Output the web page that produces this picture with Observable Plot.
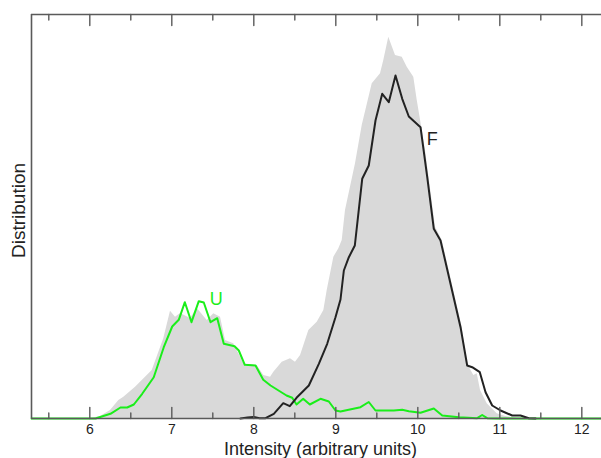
<!DOCTYPE html>
<html><head><meta charset="utf-8">
<script src="https://cdn.jsdelivr.net/npm/d3@7"></script>
<script src="https://cdn.jsdelivr.net/npm/@observablehq/plot@0.6"></script>
<style>html,body{margin:0;padding:0;background:#fff;overflow:hidden}</style>
</head><body><div id="chart"></div>
<script>
// Total distribution (gray area)
const totalX = [5.289,6.009,6.130,6.252,6.354,6.415,6.557,6.761,6.902,6.984,7.045,7.106,7.228,7.310,7.432,7.512,7.594,7.655,7.756,7.878,8.041,8.122,8.204,8.244,8.346,8.447,8.508,8.570,8.671,8.773,8.854,8.895,8.976,9.037,9.078,9.118,9.240,9.322,9.444,9.545,9.585,9.646,9.728,9.810,9.871,9.951,9.993,10.054,10.094,10.216,10.298,10.541,10.602,10.683,10.724,10.765,10.846,10.968,11.070,11.212,12.24];
const totalY = [0,0,2,8,18,21.3,31.3,48,79.7,107.3,101.3,105,100,110,98,104.7,101.3,78,74.7,54.7,53,43,41.3,46.3,56.3,59.7,56.3,63,88,96.3,108,128,161.3,169.7,178,208,254.7,293,334.7,344.7,358,381.3,363,361.3,351.3,341.3,318,288,268,191.3,178,91.3,54.7,43,44.7,28,14.7,4.7,2,0,0];
// Unfolded (U, green)
const uX = [5.289,5.521,6.070,6.252,6.374,6.456,6.537,6.639,6.780,6.902,7.005,7.085,7.159,7.240,7.329,7.390,7.472,7.554,7.634,7.765,7.817,7.890,8.021,8.115,8.204,8.399,8.468,8.521,8.602,8.683,8.813,8.915,8.996,9.057,9.301,9.402,9.484,9.707,9.810,9.890,10.033,10.195,10.298,10.500,10.724,10.785,10.846,10.968,12.240];
const uY = [0,0,0,4.7,11,11,14,24.7,41.3,71.3,92,98.7,116.3,96.3,117.3,116,96.3,100.3,74.7,72.3,68,53.7,53,38.7,33,23,20.7,14,19.7,14,19.7,17,8,7,11.3,16.5,8,8,8.7,7.3,5.7,10,3,1.3,0.3,3.5,0.3,0,0];
// Folded (F, black)
const fX = [7.838,7.923,8.000,8.070,8.143,8.244,8.359,8.439,8.521,8.671,8.793,8.895,8.996,9.057,9.098,9.159,9.232,9.322,9.402,9.484,9.566,9.646,9.728,9.810,9.890,10.033,10.115,10.195,10.277,10.521,10.602,10.663,10.756,10.826,10.907,11.009,11.151,11.252,11.354,11.436];
const fY = [0,1,1.5,0.3,0.3,4.7,15.3,12.3,20.7,33,54.7,74.7,101.3,119,148,161.3,173,239.7,253,298,324.7,316.3,343,319.7,302,291.3,241.3,189.7,178,91.3,53,51.3,46.3,26.3,13,8,3,3,0.3,0];

const majorTicks = [6,7,8,9,10,11,12];
const minorTicks = [5.5,6.5,7.5,8.5,9.5,10.5,11.5];
const xDomain = [5.289, 12.24];
const yDomain = [0, 404];
const labels = [
  {name: "U", x: 7.541, y: 119.7, color: "#1aee1a"},
  {name: "F", x: 10.176, y: 279.7, color: "#222"}
];

const total = totalX.map((x,i)=>({x, y: totalY[i]}));
const U = uX.map((x,i)=>({x, y: uY[i]}));
const F = fX.map((x,i)=>({x, y: fY[i]}));
const tickShape = {draw(ctx, l){ ctx.moveTo(0,0); ctx.lineTo(0,-l); }};
const axisColor = "#5a5a5a";

const chart = Plot.plot({
  width: 601, height: 458,
  marginLeft: 31, marginRight: 0, marginTop: 14, marginBottom: 40,
  style: {fontFamily: "'Liberation Sans', Arial, Helvetica, sans-serif", color: "#222", background: "#fff"},
  x: {domain: xDomain},
  y: {domain: yDomain, axis: null},
  marks: [
    Plot.areaY(total, {x: "x", y: "y", fill: "#d9d9d9"}),
    Plot.lineY(U, {x: "x", y: "y", stroke: "#1aee1a", strokeWidth: 2}),
    Plot.lineY(F, {x: "x", y: "y", stroke: "#222", strokeWidth: 2}),
    Plot.ruleY([yDomain[0], yDomain[1]], {stroke: axisColor, strokeWidth: 1.6}),
    Plot.ruleX([xDomain[0]], {stroke: axisColor, strokeWidth: 1.6}),
    Plot.vector(majorTicks, {x: d=>d, y: yDomain[0], length: 11, rotate: 0, anchor: "start", shape: tickShape, stroke: axisColor, strokeWidth: 1.4}),
    Plot.vector(minorTicks, {x: d=>d, y: yDomain[0], length: 5.5, rotate: 0, anchor: "start", shape: tickShape, stroke: axisColor, strokeWidth: 1.4}),
    Plot.vector(majorTicks, {x: d=>d, y: yDomain[1], length: 11, rotate: 180, anchor: "start", shape: tickShape, stroke: axisColor, strokeWidth: 1.4}),
    Plot.vector(minorTicks, {x: d=>d, y: yDomain[1], length: 5.5, rotate: 180, anchor: "start", shape: tickShape, stroke: axisColor, strokeWidth: 1.4}),
    Plot.axisX({ticks: majorTicks, tickSize: 0, tickPadding: 6, fontSize: 14, tickFormat: d=>String(d), label: null}),
    Plot.text(labels, {x: "x", y: "y", text: "name", fill: "color", fontSize: 18}),
    Plot.text(["Intensity (arbitrary units)"], {frameAnchor: "bottom", textAnchor: "middle", lineAnchor: "middle", dy: 31, dx: 4, fontSize: 18, fill: "#222"}),
    Plot.text(["Distribution"], {frameAnchor: "left", textAnchor: "middle", lineAnchor: "middle", rotate: -90, dx: -13, dy: -6, fontSize: 19, fill: "#222"})
  ]
});
document.getElementById("chart").appendChild(chart);
</script></body></html>
